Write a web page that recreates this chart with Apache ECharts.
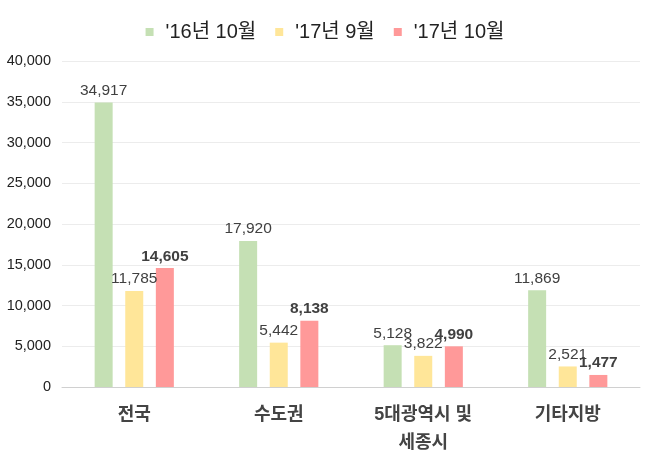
<!DOCTYPE html>
<html>
<head>
<meta charset="utf-8">
<script src="https://cdn.jsdelivr.net/npm/echarts@6/dist/echarts.min.js"></script>
<style>
    html, body { margin: 0; padding: 0; background: #fff; }
    #chart { width: 650px; height: 458px; }
</style>
</head>
<body>
<div id="chart"></div>
<script>
    // 지역 구분
    var categories = ['전국', '수도권', '5대광역시 및\n세종시', '기타지방'];
    var seriesNames = ["'16년 10월", "'17년 9월", "'17년 10월"];
    var oct16 = [34917, 17920, 5128, 11869];
    var sep17 = [11785, 5442, 3822, 2521];
    var oct17 = [14605, 8138, 4990, 1477];
    var yTicks = { min: 0, max: 40000, interval: 5000 };

    var fontFamily = '"Liberation Sans", "Noto Sans CJK KR", sans-serif';

    function barLabel(bold) {
        return {
            show: true,
            position: 'top',
            distance: 4,
            fontSize: 15.5,
            color: '#404040',
            fontWeight: bold ? 'bold' : 'normal',
            fontFamily: fontFamily,
            formatter: function (p) { return p.value.toLocaleString('en-US'); }
        };
    }

    var chart = echarts.init(document.getElementById('chart'));
    chart.setOption({
        animation: false,
        textStyle: { fontFamily: fontFamily },
        legend: {
            top: 17,
            left: 'center',
            itemWidth: 8,
            itemHeight: 8,
            itemGap: 19,
            icon: 'rect',
            textStyle: { fontSize: 20, color: '#222', fontFamily: fontFamily, padding: [0, 0, 0, 7] },
            data: seriesNames
        },
        grid: { left: 62, right: 10, top: 61, bottom: 71 },
        xAxis: {
            type: 'category',
            data: categories,
            axisTick: { show: false },
            axisLine: { lineStyle: { color: '#d0d0d0', width: 1 } },
            axisLabel: {
                fontSize: 18,
                fontWeight: 'bold',
                color: '#444',
                margin: 14,
                lineHeight: 28,
                fontFamily: fontFamily
            }
        },
        yAxis: {
            type: 'value',
            min: yTicks.min,
            max: yTicks.max,
            interval: yTicks.interval,
            axisLine: { show: false },
            axisTick: { show: false },
            splitLine: { lineStyle: { color: '#ececec' } },
            axisLabel: {
                fontSize: 14.5,
                color: '#222',
                margin: 11,
                fontFamily: fontFamily,
                formatter: function (v) { return v.toLocaleString('en-US'); }
            }
        },
        series: [
            {
                name: seriesNames[0], type: 'bar', data: oct16,
                barWidth: 18, barGap: '70%',
                itemStyle: { color: '#c5e0b4' },
                label: barLabel(false)
            },
            {
                name: seriesNames[1], type: 'bar', data: sep17,
                barWidth: 18, barGap: '70%',
                itemStyle: { color: '#ffe699' },
                label: barLabel(false)
            },
            {
                name: seriesNames[2], type: 'bar', data: oct17,
                barWidth: 18, barGap: '70%',
                itemStyle: { color: '#ff9999' },
                label: barLabel(true)
            }
        ]
    });
</script>
</body>
</html>
